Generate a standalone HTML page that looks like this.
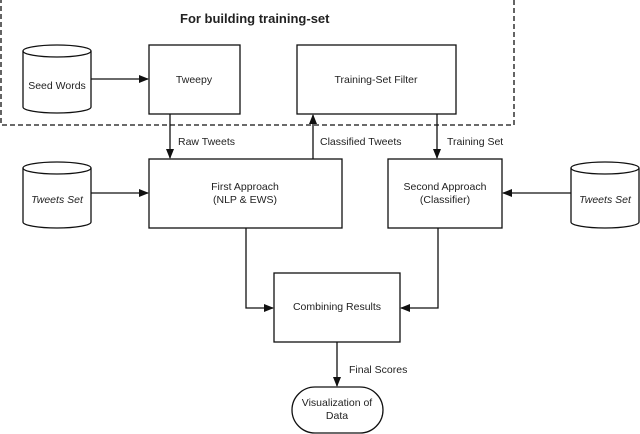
<!DOCTYPE html>
<html><head><style>
html,body{margin:0;padding:0;background:#fff;}
svg{display:block;}
text{font-family:"Liberation Sans",sans-serif;font-size:10.5px;fill:#222;}
</style></head><body>
<svg width="640" height="434" viewBox="0 0 640 434">
<defs><marker id="a" markerWidth="10" markerHeight="8" refX="9" refY="4" orient="auto" markerUnits="userSpaceOnUse"><path d="M0,0 L10,4 L0,8 z" fill="#111"/></marker></defs>
<g stroke="#111" stroke-width="1.3" fill="none">
<path d="M1,-2 V125 H514 V-2" stroke-dasharray="5,3"/>
<rect x="149" y="45" width="91" height="69"/>
<rect x="297" y="45" width="159" height="69"/>
<rect x="149" y="159" width="193" height="69"/>
<rect x="388" y="159" width="114" height="69"/>
<rect x="274" y="273" width="126" height="69"/>
<rect x="292" y="387" width="91" height="46" rx="23"/>
<!-- cylinders -->
<g id="c1"><path d="M23,51 V107 A34,6 0 0 0 91,107 V51"/><ellipse cx="57" cy="51" rx="34" ry="6"/></g>
<path d="M23,168 V222 A34,6 0 0 0 91,222 V168"/><ellipse cx="57" cy="168" rx="34" ry="6"/>
<path d="M571,168 V222 A34,6 0 0 0 639,222 V168"/><ellipse cx="605" cy="168" rx="34" ry="6"/>
<path d="M91,79 H148" marker-end="url(#a)"/>
<path d="M91,193 H148" marker-end="url(#a)"/>
<path d="M571,193 H503" marker-end="url(#a)"/>
<path d="M170,114 V158" marker-end="url(#a)"/>
<path d="M313,159 V115" marker-end="url(#a)"/>
<path d="M437,114 V158" marker-end="url(#a)"/>
<path d="M246,228 V308 H273" marker-end="url(#a)"/>
<path d="M438,228 V308 H401" marker-end="url(#a)"/>
<path d="M337,342 V386" marker-end="url(#a)"/>
</g>
<text x="180" y="23" style="font-weight:bold;font-size:13px">For building training-set</text>
<text x="57" y="89" text-anchor="middle">Seed Words</text>
<text x="194" y="83" text-anchor="middle">Tweepy</text>
<text x="376" y="83" text-anchor="middle">Training-Set Filter</text>
<text x="178" y="145">Raw Tweets</text>
<text x="320" y="145">Classified Tweets</text>
<text x="447" y="145">Training Set</text>
<text x="57" y="203" text-anchor="middle" font-style="italic">Tweets Set</text>
<text x="605" y="203" text-anchor="middle" font-style="italic">Tweets Set</text>
<text x="245" y="190" text-anchor="middle">First Approach</text>
<text x="245" y="203" text-anchor="middle">(NLP &amp; EWS)</text>
<text x="445" y="190" text-anchor="middle">Second Approach</text>
<text x="445" y="203" text-anchor="middle">(Classifier)</text>
<text x="337" y="310" text-anchor="middle">Combining Results</text>
<text x="349" y="373">Final Scores</text>
<text x="337" y="406" text-anchor="middle">Visualization of</text>
<text x="337" y="419" text-anchor="middle">Data</text>
</svg>
</body></html>
